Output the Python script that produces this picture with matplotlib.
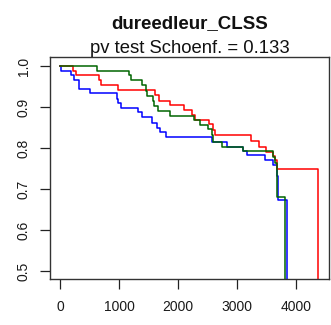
import matplotlib
matplotlib.use("Agg")
import matplotlib.pyplot as plt

plt.rcParams['font.family'] = ['Liberation Sans', 'DejaVu Sans']

title = "dureedleur_CLSS"
subtitle = "pv test Schoenf. = 0.133"

# Kaplan-Meier style step curves (time, survival); last point is the final drop
blue_t = [0, 12, 186, 237, 327, 508, 961, 988, 1034, 1322, 1395, 1554, 1639, 1695,
          1797, 2571, 2825, 3107, 3170, 3475, 3615, 3673, 3700, 3842]
blue_s = [1.0, 0.988, 0.977, 0.967, 0.944, 0.934, 0.920, 0.910, 0.898, 0.887, 0.875,
          0.862, 0.850, 0.838, 0.828, 0.815, 0.803, 0.793, 0.783, 0.771, 0.759,
          0.732, 0.673, 0.0]

red_t = [0, 225, 266, 666, 690, 988, 1610, 1683, 1864, 2102, 2232, 2288, 2525, 2588,
         2627, 3232, 3378, 3492, 3605, 3644, 3673, 4368]
red_s = [1.0, 0.9885, 0.977, 0.965, 0.954, 0.941, 0.929, 0.915, 0.904, 0.893, 0.880,
         0.868, 0.858, 0.844, 0.832, 0.818, 0.803, 0.791, 0.780, 0.771, 0.749, 0.0]

green_t = [0, 622, 1169, 1203, 1385, 1458, 1480, 1571, 1593, 1666, 1864, 2276, 2373,
           2514, 2571, 2598, 2741, 3107, 3605, 3644, 3678, 3814]
green_s = [1.0, 0.988, 0.977, 0.965, 0.953, 0.938, 0.928, 0.915, 0.902, 0.891, 0.878,
           0.868, 0.856, 0.846, 0.832, 0.815, 0.803, 0.793, 0.779, 0.763, 0.681, 0.0]

x_ticks = [0, 1000, 2000, 3000, 4000]
y_ticks = [0.5, 0.6, 0.7, 0.8, 0.9, 1.0]
y_labels = ["0.5", "0.6", "0.7", "0.8", "0.9", "1.0"]

W, H = 331, 325
fig = plt.figure(figsize=(W / 100, H / 100), dpi=100)
ax = fig.add_axes([50 / W, 1 - 279 / H, (329 - 50) / W, (279 - 57) / H])

ax.step(blue_t, blue_s, where='post', color='#0000FF', lw=1.1)
ax.step(red_t, red_s, where='post', color='#FF0000', lw=1.1)
ax.step(green_t, green_s, where='post', color='#006400', lw=1.1)

ax.set_xlim(-170, 4560)
ax.set_ylim(0.4805, 1.022)

ax.set_xticks(x_ticks)
ax.set_xticklabels([str(v) for v in x_ticks])
ax.set_yticks(y_ticks)
ax.set_yticklabels(y_labels, rotation=90, va='center')

ax.tick_params(axis='both', direction='out', length=7, width=0.9, color='#222222',
               labelsize=10, labelcolor='#1a1a1a')
ax.tick_params(axis='x', pad=8)
ax.tick_params(axis='y', pad=7)
for sp in ax.spines.values():
    sp.set_linewidth(1.0)
    sp.set_color('#333333')

cx = (50 + 329) / 2 / W
fig.text(cx, 1 - 28 / H, title, ha='center', va='baseline', fontsize=13.5,
         fontweight='bold', color='#111111')
fig.text(cx, 1 - 53 / H, subtitle, ha='center', va='baseline', fontsize=13.3,
         color='#111111')

fig.savefig("out.png", dpi=100)
